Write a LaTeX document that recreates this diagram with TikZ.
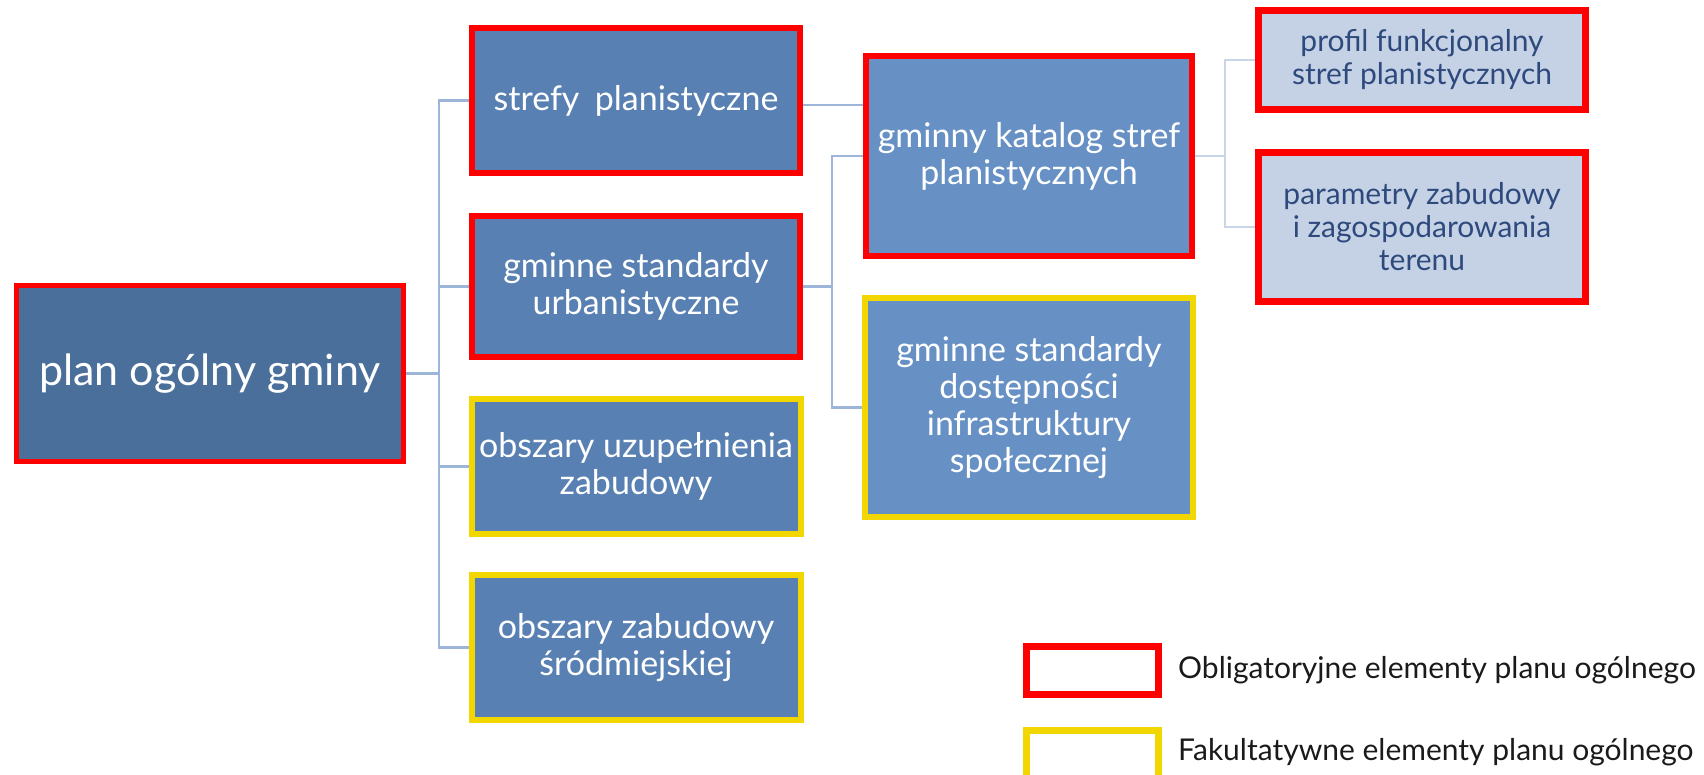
\documentclass[tikz,border=0pt]{standalone}
\usepackage{fontspec}
\setmainfont{Lato}
\definecolor{rootfill}{HTML}{4A6F9B}
\definecolor{midfill}{HTML}{5880B3}
\definecolor{katfill}{HTML}{6791C5}
\definecolor{lightfill}{HTML}{C5D2E6}
\definecolor{lighttext}{HTML}{2E4A7D}
\definecolor{obred}{HTML}{FF0000}
\definecolor{fakyellow}{HTML}{F2D600}
\definecolor{connA}{HTML}{9DB5D9}
\definecolor{connB}{HTML}{C9D5E8}
\definecolor{legtext}{HTML}{1A1A1A}
\tikzset{
  box/.style={rectangle, align=center, inner sep=0pt, text=white},
  obl/.style={draw=obred, line width=6pt},
  fak/.style={draw=fakyellow, line width=6pt},
  midtxt/.style={font=\fontsize{34}{37}\selectfont},
  conn/.style={draw=connA, line width=2.2pt},
  connlight/.style={draw=connB, line width=2.2pt},
}
\begin{document}
\begin{tikzpicture}[x=1pt,y=-1pt]
\useasboundingbox (0,0) rectangle (1704,774);
\clip (0,0) rectangle (1704,774);

% nodes
\node[box, obl, line width=5pt, fill=rootfill, minimum width=387pt, minimum height=176pt,
      font=\fontsize{43}{50}\selectfont] (root) at (210,373.5) {plan ogólny gminy};
\node[box, obl, fill=midfill, midtxt, minimum width=328pt, minimum height=145pt] (strefy) at (636,100.5) {strefy\hspace{0.45em}planistyczne};
\node[box, obl, fill=midfill, midtxt, minimum width=328pt, minimum height=141pt] (urban) at (636,286.5) {gminne standardy\\urbanistyczne};
\node[box, fak, fill=midfill, midtxt, minimum width=329pt, minimum height=135pt] (uzup) at (636,466.5) {obszary uzupełnienia\\zabudowy};
\node[box, fak, fill=midfill, midtxt, minimum width=329pt, minimum height=145pt] (srodm) at (636,647.5) {obszary zabudowy\\śródmiejskiej};
\node[box, obl, fill=katfill, midtxt, minimum width=326pt, minimum height=200pt] (katalog) at (1029,156) {gminny katalog stref\\planistycznych};
\node[box, fak, fill=katfill, midtxt, minimum width=328pt, minimum height=219pt] (dostep) at (1029,407.5) {gminne standardy\\dostępności\\infrastruktury\\społecznej};
\node[box, obl, line width=7pt, fill=lightfill, text=lighttext, font=\fontsize{30}{33}\selectfont,
      minimum width=327pt, minimum height=99pt] (profil) at (1422,60) {profil funkcjonalny\\stref planistycznych};
\node[box, obl, line width=7pt, fill=lightfill, text=lighttext, font=\fontsize{30}{33}\selectfont,
      minimum width=327pt, minimum height=149pt] (param) at (1422,227) {parametry zabudowy\\i zagospodarowania\\terenu};

% legend
\node[rectangle, draw=obred, line width=7pt, fill=white, minimum width=132pt, minimum height=48pt] (legred) at (1092.5,670.5) {};
\node[rectangle, draw=fakyellow, line width=7pt, fill=white, minimum width=132pt, minimum height=48pt] (legyel) at (1092.5,754.5) {};
\node[anchor=west, inner sep=0pt, text=legtext, font=\fontsize{30}{33}\selectfont] (legredtxt) at (1178,670) {Obligatoryjne elementy planu ogólnego};
\node[anchor=west, inner sep=0pt, text=legtext, font=\fontsize{30}{33}\selectfont] (legyeltxt) at (1178,752) {Fakultatywne elementy planu ogólnego};

% connector coordinates
\coordinate (trunk) at (439,0);
\coordinate (mid) at (832,0);
\coordinate (right) at (1225,0);
\coordinate (sk) at (0,105);

% connectors level 1
\draw[conn] (root.east) -- (root.east -| trunk);
\draw[conn] (strefy.west) -- (strefy.west -| trunk) -- (srodm.west -| trunk) -- (srodm.west);
\draw[conn] (urban.west) -- (urban.west -| trunk);
\draw[conn] (uzup.west) -- (uzup.west -| trunk);

% level 2
\draw[conn] (strefy.east |- sk) -- (katalog.west |- sk);
\draw[conn] (urban.east) -- (urban.east -| mid);
\draw[conn] (katalog.west) -- (katalog.west -| mid) -- (dostep.west -| mid) -- (dostep.west);

% level 3
\draw[connlight] (katalog.east) -- (katalog.east -| right);
\draw[connlight] (profil.west) -- (profil.west -| right) -- (param.west -| right) -- (param.west);
\end{tikzpicture}
\end{document}
